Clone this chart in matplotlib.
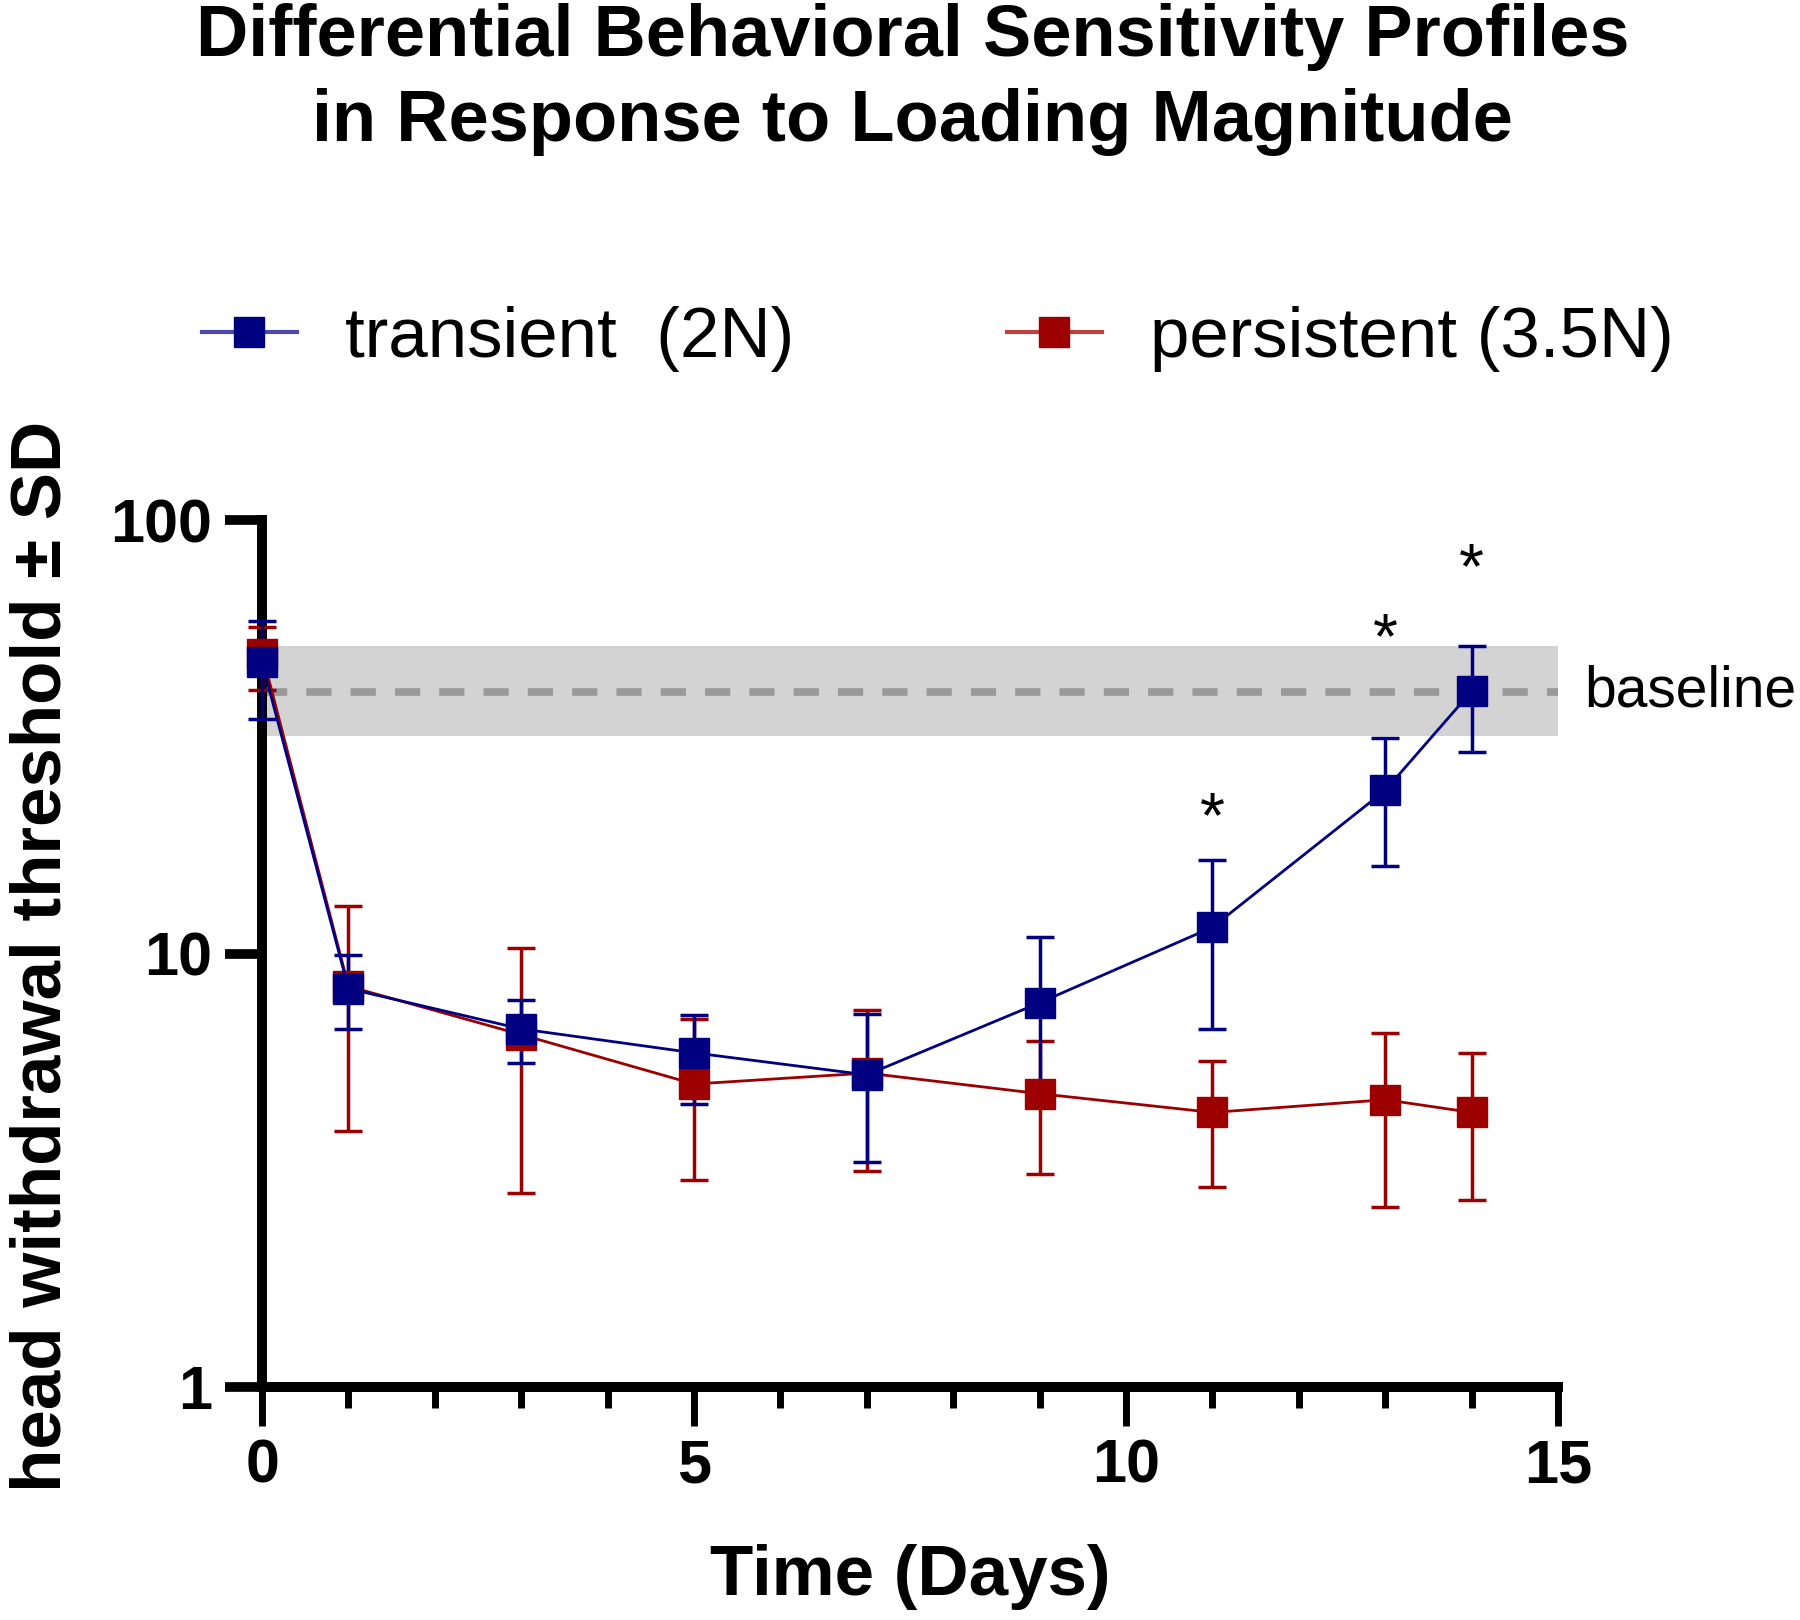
import numpy as np
import matplotlib
matplotlib.use('Agg')
import matplotlib.pyplot as plt
from matplotlib.lines import Line2D

plt.rcParams['font.family'] = ['Liberation Sans', 'DejaVu Sans']

days = np.array([0, 1, 3, 5, 7, 9, 11, 13, 14])

# transient (2N) - mean and SD bounds
trans_mean = np.array([47.0, 8.3, 6.7, 5.9, 5.25, 7.7, 11.5, 23.8, 40.3])
trans_lo = np.array([34.7, 6.7, 5.6, 4.5, 3.3, 4.5, 6.7, 15.9, 29.2])
trans_hi = np.array([58.5, 9.9, 7.8, 7.2, 7.25, 10.9, 16.4, 31.4, 51.3])

# persistent (3.5N)
pers_mean = np.array([49.2, 8.4, 6.5, 5.0, 5.3, 4.75, 4.3, 4.6, 4.3])
pers_lo = np.array([40.6, 3.9, 2.8, 3.0, 3.15, 3.1, 2.9, 2.6, 2.7])
pers_hi = np.array([56.8, 12.9, 10.3, 7.05, 7.4, 6.3, 5.65, 6.55, 5.9])

baseline_mean = 40.2
baseline_lo = 31.7
baseline_hi = 51.1

star_days = [11, 13, 14]
star_y = [18.6, 48.0, 69.5]

blue = '#000080'
red = '#9c0000'

fig = plt.figure(figsize=(18, 16.2), dpi=100)
ax = fig.add_axes([0.1456, 0.1438, 0.72, 0.5352])

ax.axhspan(baseline_lo, baseline_hi, color='#d3d3d3', lw=0, zorder=0)
ax.plot([0, 15], [baseline_mean, baseline_mean], color='#999999', lw=5.5,
        linestyle=(0, (3.3, 2.5)), zorder=1)

for mean, lo, hi, col in [(pers_mean, pers_lo, pers_hi, red),
                          (trans_mean, trans_lo, trans_hi, blue)]:
    eb = ax.errorbar(days, mean, yerr=[mean - lo, hi - mean], color=col,
                     lw=2, marker='s', ms=21, mfc=col, mec=col,
                     elinewidth=2.5, capsize=10, capthick=2.5, zorder=4)
    for art in eb.get_children():
        art.set_clip_on(False)

for d, y in zip(star_days, star_y):
    ax.text(d, y, '*', fontsize=46, ha='center', va='baseline')

ax.text(15.3, baseline_mean, 'baseline', fontsize=41, ha='left', va='center')

ax.set_yscale('log')
ax.set_ylim(1, 100)
ax.set_xlim(0, 15)
ax.set_yticks([1, 10, 100])
ax.set_yticklabels(['1', '10', '100'])
ax.yaxis.set_minor_locator(matplotlib.ticker.NullLocator())
ax.set_xticks([0, 5, 10, 15])
ax.set_xticks(np.arange(0, 16, 1), minor=True)

for s in ['top', 'right']:
    ax.spines[s].set_visible(False)
for s in ['left', 'bottom']:
    ax.spines[s].set_linewidth(7.2)

ax.tick_params(axis='y', which='major', length=27, width=7, pad=9,
               labelsize=44)
ax.tick_params(axis='x', which='major', length=28, width=5, pad=9,
               labelsize=44)
ax.tick_params(axis='x', which='minor', length=15, width=5)
for lab in ax.get_xticklabels() + ax.get_yticklabels():
    lab.set_fontweight('bold')

ax.set_xlabel('Time (Days)', fontsize=51, fontweight='bold', labelpad=35)
ax.set_ylabel('head withdrawal threshold \u00b1 SD', fontsize=51,
              fontweight='bold')
ax.yaxis.set_label_coords(-0.144, 0.497)

handles = [
    Line2D([], [], color='#4a4ab0', lw=3, marker='s', ms=21, mfc=blue, mec=blue),
    Line2D([], [], color='#c04040', lw=3, marker='s', ms=21, mfc=red, mec=red),
]
fig.legend(handles, ['transient  (2N)', 'persistent (3.5N)'], ncol=2,
           loc='center', bbox_to_anchor=(0.521, 0.791), frameon=False,
           fontsize=51, handlelength=1.34, handletextpad=0.68,
           columnspacing=3.0)

fig.text(0.507, 0.977, 'Differential Behavioral Sensitivity Profiles',
         fontsize=52, fontweight='bold', ha='center', va='center')
fig.text(0.507, 0.925, 'in Response to Loading Magnitude',
         fontsize=52, fontweight='bold', ha='center', va='center')

fig.savefig('out.png', dpi=100)
